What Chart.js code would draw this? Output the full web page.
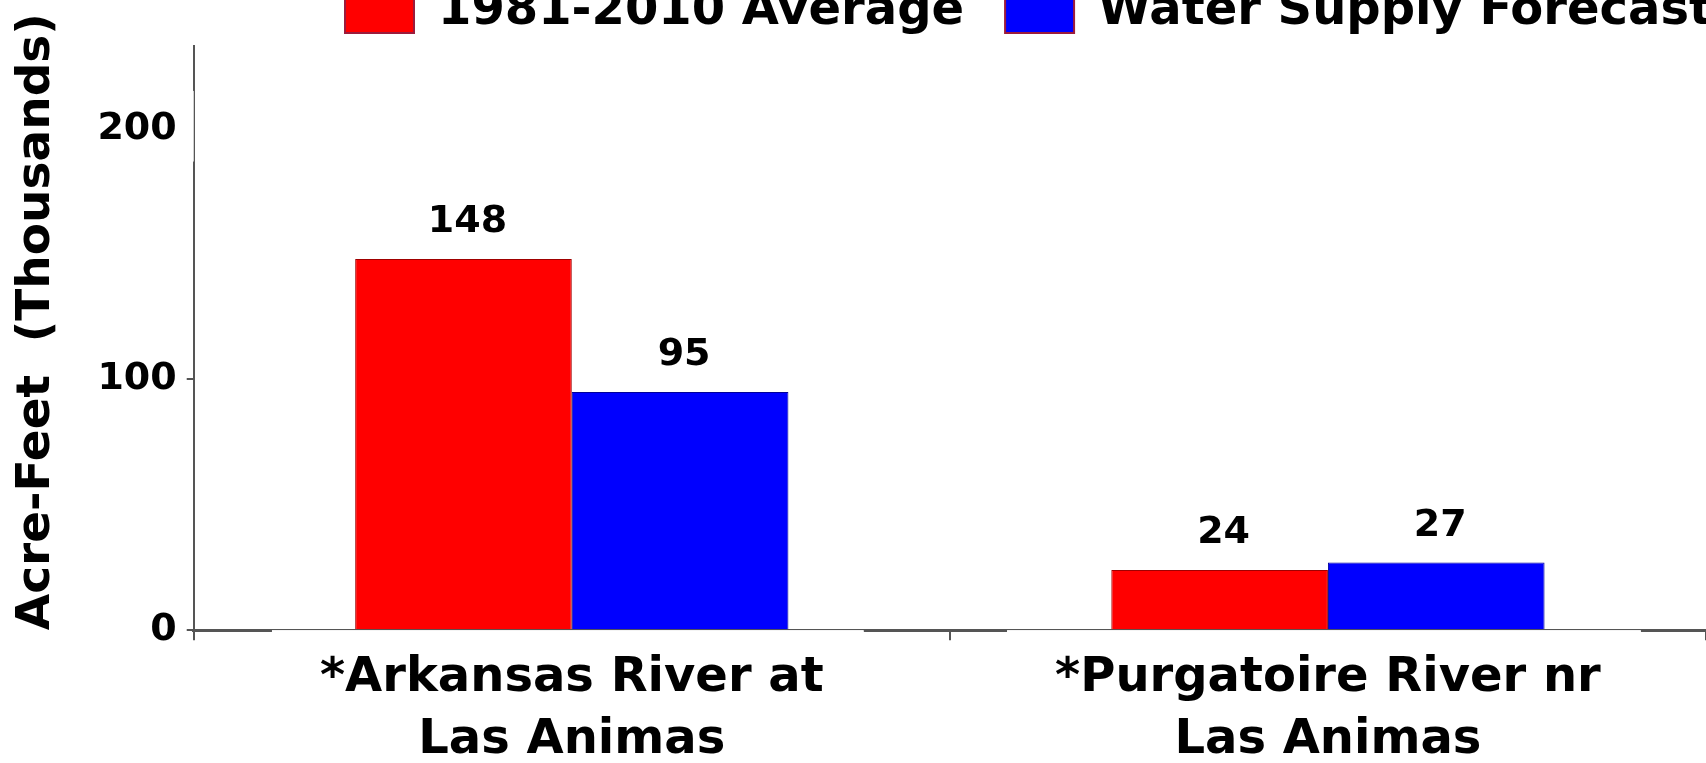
<!DOCTYPE html>
<html>
<head>
<meta charset="utf-8">
<script src="https://cdn.jsdelivr.net/npm/chart.js@4.4.1/dist/chart.umd.min.js"></script>
<style>
  html, body { margin: 0; padding: 0; background: #fff; }
</style>
</head>
<body>
<canvas id="myChart" width="1706" height="763"></canvas>
<script>
const stations = [["*Arkansas River at", "Las Animas"], ["*Purgatoire River nr", "Las Animas"]];
const seriesNames = ["1981-2010 Average", "Water Supply Forecast"];
const average = [148, 24];
const forecast = [95, 27];
const yStep = 100;
const yMax = 233;

Chart.defaults.font.family = "'DejaVu Sans', Verdana, sans-serif";
Chart.defaults.font.weight = "bold";
Chart.defaults.color = "#000";

// numbers above the bars
const valueLabels = {
    id: "valueLabels",
    afterDatasetsDraw(chart) {
        const c = chart.ctx;
        c.save();
        c.font = "bold 38px 'DejaVu Sans', Verdana, sans-serif";
        c.fillStyle = "#000";
        c.textAlign = "center";
        c.textBaseline = "alphabetic";
        chart.data.datasets.forEach((ds, i) => {
            chart.getDatasetMeta(i).data.forEach((bar, j) => {
                c.fillText(ds.data[j], bar.x + 4, bar.y - 27);
            });
        });
        c.restore();
    },
};

// legend sits over the top of the plot, starting right of the axis
const legendShift = {
    id: "legendShift",
    afterLayout(chart) {
        chart.legend.left = 304;
        chart.legend.right = 2400;
    },
};

const ctx = document.getElementById("myChart");

new Chart(ctx, {
    type: "bar",
    data: {
        labels: stations,
        datasets: [
            {
                label: seriesNames[0],
                data: average,
                backgroundColor: "#ff0000",
                borderColor: "#a00000",
                borderWidth: 1,
            },
            {
                label: seriesNames[1],
                data: forecast,
                backgroundColor: "#0000ff",
                borderColor: "#00009a",
                borderWidth: 1,
            },
        ],
    },
    plugins: [valueLabels, legendShift],
    options: {
        responsive: false,
        animation: false,
        layout: { padding: { top: -53, left: 0, right: -14, bottom: -16 } },
        datasets: { bar: { categoryPercentage: 0.573, barPercentage: 1 } },
        plugins: {
            tooltip: { enabled: false },
            legend: {
                position: "top",
                align: "start",
                labels: {
                    font: { size: 48, weight: "bold" },
                    color: "#000",
                    boxWidth: 69,
                    boxHeight: 42,
                    padding: 41,
                    generateLabels(chart) {
                        const items = Chart.defaults.plugins.legend.labels.generateLabels(chart);
                        items.forEach((it) => {
                            it.strokeStyle = "#9c1c3c";
                            it.lineWidth = 2;
                        });
                        return items;
                    },
                },
            },
        },
        scales: {
            x: {
                grid: { drawOnChartArea: false, tickLength: 10, color: "#555", lineWidth: 2 },
                border: { color: "#555", width: 3 },
                ticks: {
                    font: { size: 48, weight: "bold", lineHeight: 1.3 },
                    color: "#000",
                    padding: 7,
                    maxRotation: 0,
                    autoSkip: false,
                    // thin white strip that hides the base line under the labels
                    showLabelBackdrop: true,
                    backdropColor: "#fff",
                    backdropPadding: { top: -11, bottom: -104, left: 48, right: 40 },
                },
            },
            y: {
                min: 0,
                max: yMax,
                grid: { drawOnChartArea: false, tickLength: 7, color: "#555", lineWidth: 2 },
                border: { color: "#555", width: 2 },
                ticks: {
                    stepSize: yStep,
                    includeBounds: false,
                    font: { size: 38, weight: "bold" },
                    color: "#000",
                    padding: 10,
                    showLabelBackdrop: true,
                    backdropColor: (c) => (c.tick && c.tick.value === 200 ? "#fff" : "rgba(255,255,255,0)"),
                    backdropPadding: { top: 15, bottom: 10, left: 4, right: 22 },
                },
                title: {
                    display: true,
                    text: "Acre-Feet  (Thousands)",
                    align: "start",
                    color: "#000",
                    font: { size: 47, weight: "bold" },
                    padding: { top: 9, bottom: 22 },
                },
            },
        },
    },
});
</script>
</body>
</html>
